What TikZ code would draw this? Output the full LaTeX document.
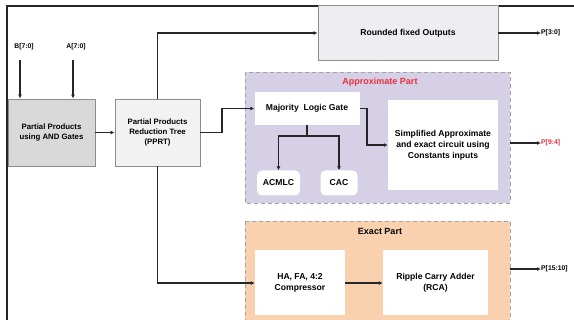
\documentclass[tikz,border=0pt]{standalone}
\usepackage{fontspec}
\setmainfont{Liberation Sans}
\usetikzlibrary{arrows.meta}
\definecolor{boxline}{HTML}{8C8C8C}
\definecolor{andfill}{HTML}{D9D9D9}
\definecolor{pprtfill}{HTML}{F2F2F2}
\definecolor{roundfill}{HTML}{EEEDF1}
\definecolor{approxfill}{HTML}{D6D0E6}
\definecolor{exactfill}{HTML}{FAD1AE}
\definecolor{partred}{HTML}{E8323C}
\tikzset{
  every node/.style={font=\fontsize{8.6}{11}\selectfont\bfseries, align=center, inner sep=0pt},
  leftfont/.style={font=\fontsize{7.8}{10}\selectfont\bfseries},
  blk/.style={draw=boxline, line width=0.9pt},
  wbox/.style={fill=white, draw=none},
  cont/.style={draw=boxline!80, dashed, dash pattern=on 4pt off 3pt, line width=0.9pt},
  conn/.style={line width=1.1pt, draw=black!85},
  arr/.style={conn, -{Latex[length=4pt,width=4pt]}},
  lbl/.style={font=\fontsize{6.8}{8}\selectfont\bfseries},
}
\begin{document}
\begin{tikzpicture}[x=1pt,y=-1pt]
\useasboundingbox (0,0) rectangle (574,320);
\fill[white] (0,0) rectangle (574,320);
% frame
\draw[line width=1.6pt, black!85] (7,320) -- (7,6) -- (574,6);

% containers
\draw[cont, fill=approxfill] (245,72) rectangle (510,203);
\node[font=\fontsize{9}{10}\selectfont\bfseries, text=partred] (aptitle) at (380,82) {Approximate Part};
\draw[cont, fill=exactfill] (245,221) rectangle (510,322);
\node[font=\fontsize{9}{10}\selectfont\bfseries] (extitle) at (380,231) {Exact Part};

% blocks
\node[blk, leftfont, fill=andfill, minimum width=87pt, minimum height=67pt] (and) at (51.5,132.5) {Partial Products\\using AND Gates};
\node[blk, leftfont, fill=pprtfill, minimum width=85pt, minimum height=67pt] (pprt) at (157.5,132.5) {Partial Products\\Reduction Tree\\(PPRT)};
\node[blk, fill=roundfill, minimum width=180pt, minimum height=55pt] (round) at (408,33) {Rounded fixed Outputs};

\node[wbox, minimum width=105pt, minimum height=33pt] (maj) at (307,108.5) {Majority\ \ Logic Gate};
\node[wbox, minimum width=110pt, minimum height=90pt] (simp) at (443,145) {Simplified Approximate\\and exact circuit using\\Constants inputs};
\node[wbox, rounded corners=5pt, minimum width=43pt, minimum height=25pt] (acmlc) at (278.5,183) {ACMLC};
\node[wbox, rounded corners=5pt, minimum width=37pt, minimum height=25pt] (cac) at (339,183) {CAC};

\node[wbox, minimum width=90pt, minimum height=65pt] (ha) at (300,283) {HA, FA, 4:2\\Compressor};
\node[wbox, minimum width=105pt, minimum height=65pt] (rca) at (435.5,283) {Ripple Carry Adder\\(RCA)};

% input labels
\node[lbl] (b) at (24,47) {B[7:0]};
\node[lbl] (a) at (76,47) {A[7:0]};
\coordinate (bs) at (20,60);
\coordinate (as) at (73,60);
\draw[arr] (bs) -- (bs |- and.north);
\draw[arr] (as) -- (as |- and.north);

% output labels
\node[lbl, anchor=west] (p30) at (541,33) {P[3:0]};
\node[lbl, anchor=west, text=partred] (p94) at (541,143) {P[9:4]};
\node[lbl, anchor=west] (p1510) at (541,269) {P[15:10]};
\coordinate (apr) at (510,143);
\coordinate (exr) at (510,269);
\draw[arr] (round.east) -- (p30.west);
\draw[arr] (apr) -- (p94.west);
\draw[arr] (exr) -- (p1510.west);

% connections
\draw[arr] (and.east) -- (pprt.east -| pprt.west);
\draw[arr] (pprt.north) |- (round.west);
\draw[arr] (pprt.east) -- (222,132.5) |- (maj.west);
\draw[arr] (maj.east) -- (367,108.5) |- (simp.west);
\draw[arr] (pprt.south) |- (ha.west);
\draw[arr] (ha.east) -- (rca.west);
\coordinate (br) at (307,136);
\draw[conn] (maj.south) -- (br);
\draw[arr] (br) -| (acmlc.north);
\draw[arr] (br) -| (cac.north);
\end{tikzpicture}
\end{document}
